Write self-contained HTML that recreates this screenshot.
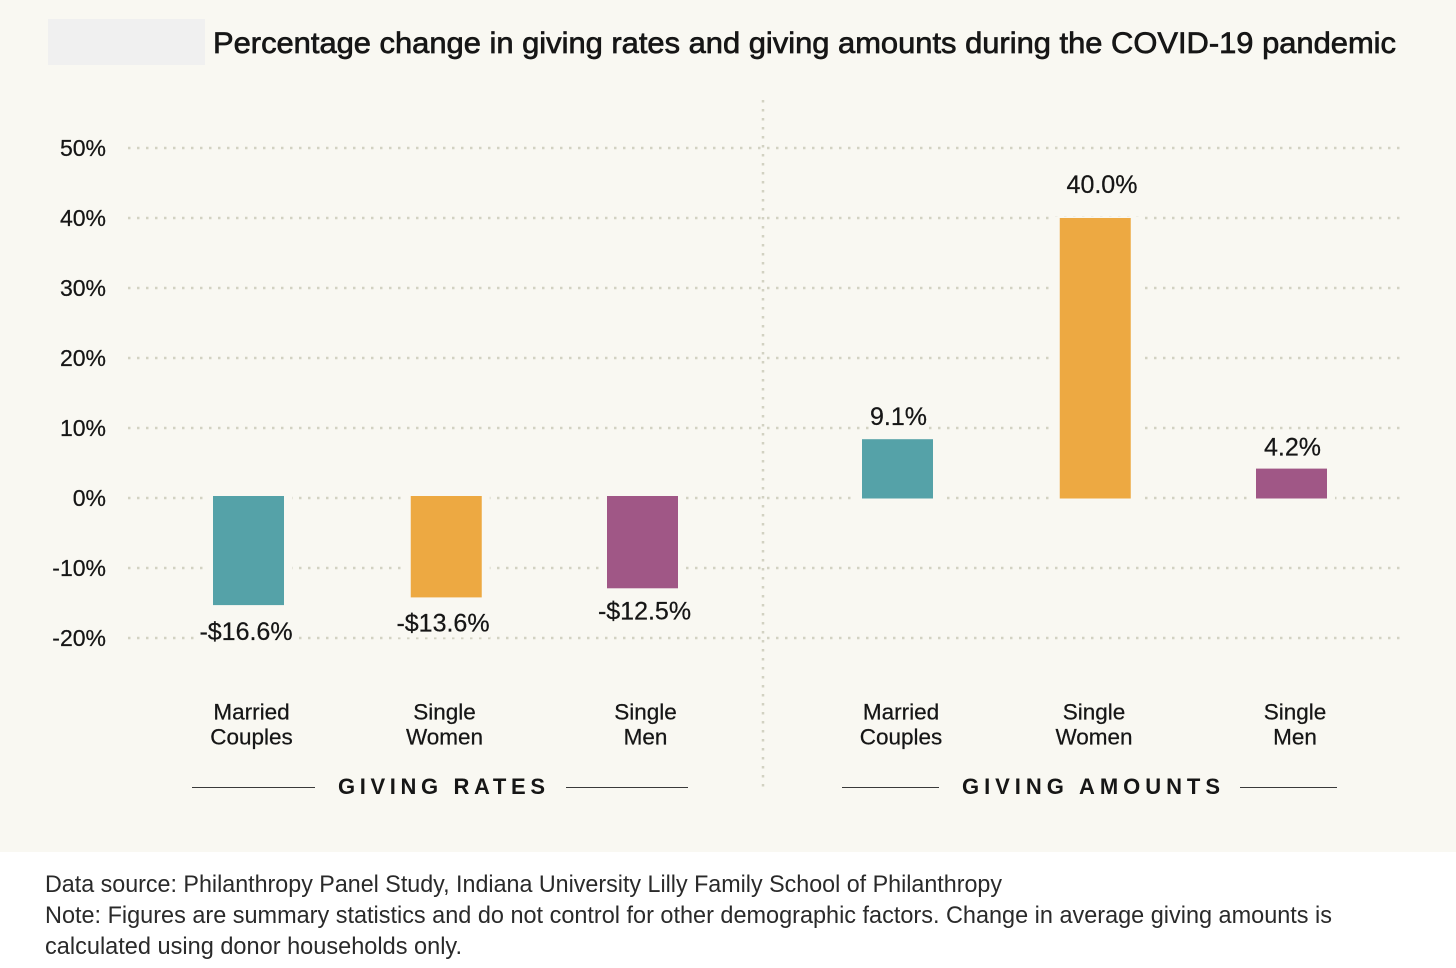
<!DOCTYPE html>
<html lang="en">
<head>
<meta charset="utf-8">
<title>Percentage change in giving rates and giving amounts during the COVID-19 pandemic</title>
<style>
html,body{margin:0;padding:0;background:#fff;width:1456px;height:968px;overflow:hidden}
svg{display:block}
text{font-family:"Liberation Sans",Arial,sans-serif;fill:#161616}
#ticks text,#values text,#cats text{stroke:#161616;stroke-width:0.25}
</style>
</head>
<body>
<svg id="chart" xmlns="http://www.w3.org/2000/svg" width="1456" height="968" viewBox="0 0 1456 968">
  <rect x="0" y="0" width="1456" height="852" fill="#f9f8f2"/>
  <rect x="48" y="19" width="157" height="46" fill="#f0f0f0"/>
  <text x="213" y="53" font-size="30" stroke="#161616" stroke-width="0.7" textLength="1183" lengthAdjust="spacingAndGlyphs">Percentage change in giving rates and giving amounts during the COVID-19 pandemic</text>
  <g id="grid"></g>
  <line x1="763" y1="100" x2="763" y2="788" stroke="#d2d2c2" stroke-width="2.5" stroke-dasharray="2.5 6.5"/>
  <g id="ticks"></g>
  <g id="bars"></g>
  <g id="values"></g>
  <g id="cats"></g>

  <line x1="192" y1="787.5" x2="315" y2="787.5" stroke="#3a3a3a" stroke-width="1"/>
  <line x1="566" y1="787.5" x2="688" y2="787.5" stroke="#3a3a3a" stroke-width="1"/>
  <text x="338" y="794" font-size="22" font-weight="700" textLength="207" lengthAdjust="spacing">GIVING RATES</text>
  <line x1="842" y1="787.5" x2="939" y2="787.5" stroke="#3a3a3a" stroke-width="1"/>
  <line x1="1240" y1="787.5" x2="1337" y2="787.5" stroke="#3a3a3a" stroke-width="1"/>
  <text x="962" y="794" font-size="22" font-weight="700" textLength="258" lengthAdjust="spacing">GIVING AMOUNTS</text>

  <rect x="0" y="852" width="1456" height="116" fill="#ffffff"/>
  <text x="45" y="892" font-size="24" style="fill:#2a2a2a" textLength="957" lengthAdjust="spacingAndGlyphs">Data source: Philanthropy Panel Study, Indiana University Lilly Family School of Philanthropy</text>
  <text x="45" y="923" font-size="24" style="fill:#2a2a2a" textLength="1287" lengthAdjust="spacingAndGlyphs">Note: Figures are summary statistics and do not control for other demographic factors. Change in average giving amounts is</text>
  <text x="45" y="954" font-size="24" style="fill:#2a2a2a" textLength="417" lengthAdjust="spacingAndGlyphs">calculated using donor households only.</text>
</svg>
<script>
// ---- data ----
const tickValues = [50, 40, 30, 20, 10, 0, -10, -20];
const tickLabels = ['50%', '40%', '30%', '20%', '10%', '0%', '-10%', '-20%'];
const categories = [['Married', 'Couples'], ['Single', 'Women'], ['Single', 'Men']];
// Bar lengths as drawn in the picture (they differ slightly from the printed labels).
const ratesValues = [-15.3, -14.2, -12.9];
const amountsValues = [8.4, 40.0, 4.2];
const ratesLabels = ['-$16.6%', '-$13.6%', '-$12.5%'];
const amountsLabels = ['9.1%', '40.0%', '4.2%'];

// ---- layout ----
const NS = 'http://www.w3.org/2000/svg';
const colors = ['#55a2a8', '#eda942', '#a05786'];
const bg = '#f9f8f2';
const barWidth = 71;
const y = v => 498 + (0 - v) * 7;
const barNudge = [0, 0.75, 0];
const xRates = i => 248.5 + i * 197;
const xAmounts = i => 897.5 + i * 197;
const ratesLabelNudge = [{dx: -2.5, dy: 35}, {dx: -2.5, dy: 34}, {dx: 2, dy: 31}];
const amountsLabelNudge = [{dx: 1, dy: -14}, {dx: 7.5, dy: -25}, {dx: 1, dy: -13}];
const ratesCatNudge = [3, -1, 3];
const amountsCatNudge = [3.5, -0.5, 3.5];

function make(tag, attrs, parent, txt) {
  const el = document.createElementNS(NS, tag);
  for (const k in attrs) el.setAttribute(k, attrs[k]);
  if (txt !== undefined) el.textContent = txt;
  document.getElementById(parent).appendChild(el);
  return el;
}

tickValues.forEach((v, i) => {
  const line = make('line', {x1: 128, x2: 1400, y1: y(v), y2: y(v), stroke: '#d2d2c2', 'stroke-width': 2.5, 'stroke-dasharray': '2.5 6.5'}, 'grid');
  
  
  const t = make('text', {x: 106, y: y(v) + 8, 'font-size': 23, 'text-anchor': 'end'}, 'ticks', tickLabels[i]);
  
  
});

function drawGroup(values, labels, xf, nudges, catNudges, topShift, group) {
  values.forEach((v, i) => {
    const top = v >= 0 ? y(v) : y(0) - topShift;
    const bottom = v >= 0 ? y(0) + 0.5 : y(v);
    const left = xf(i) + barNudge[i] - barWidth / 2;
    const halo = make('rect', {x: left - 8, y: top - 1, width: barWidth + 16, height: bottom - top + 2, fill: bg}, 'bars');
    
    
    const bar = make('rect', {x: left, y: top, width: barWidth, height: bottom - top, fill: colors[i]}, 'bars');
    
    

    const anchorY = v >= 0 ? top : bottom;
    const lx = xf(i) + nudges[i].dx;
    const ly = anchorY + nudges[i].dy;
    const w = labels[i].length * 12.6 + 2;
    const labelHalo = make('rect', {x: lx - w / 2 - 2, y: ly - 20, width: w + 4, height: 26, fill: bg}, 'values');
    
    
    const label = make('text', {x: lx, y: ly, 'font-size': 25, 'text-anchor': 'middle'}, 'values', labels[i]);
    
    

    categories[i].forEach((word, j) => {
      const c = make('text', {x: xf(i) + catNudges[i], y: 719.5 + j * 25, 'font-size': 22.5, 'text-anchor': 'middle'}, 'cats', word);
      
      
    });
  });
}

drawGroup(ratesValues, ratesLabels, xRates, ratesLabelNudge, ratesCatNudge, 2, 'giving-rates');
drawGroup(amountsValues, amountsLabels, xAmounts, amountsLabelNudge, amountsCatNudge, 0, 'giving-amounts');
</script>
</body>
</html>
